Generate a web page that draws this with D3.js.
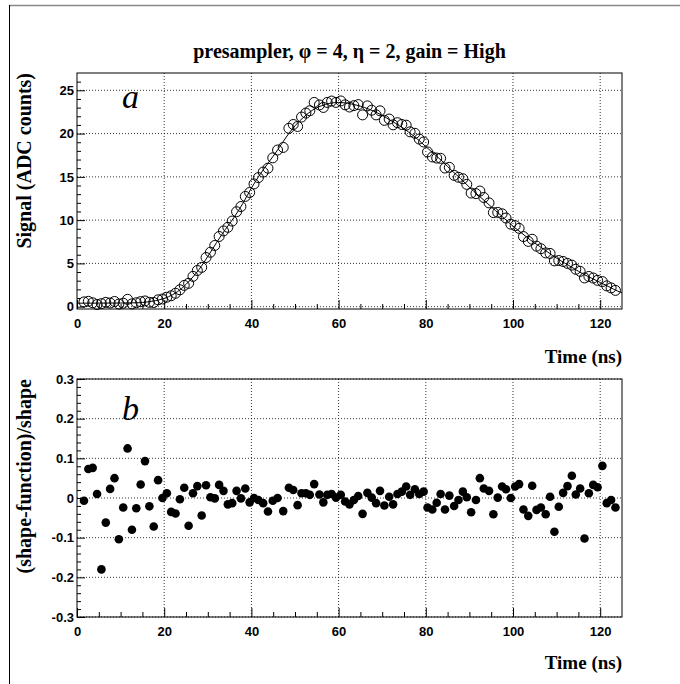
<!DOCTYPE html>
<html>
<head>
<meta charset="utf-8">
<script src="https://cdn.jsdelivr.net/npm/d3@7"></script>
<style>
  body { margin: 0; background: #fff; }
  svg { display: block; font-family: "Liberation Serif", "Times New Roman", serif; }
  .tick text { font-weight: bold; font-size: 13px; }
</style>
</head>
<body>
<script>
// sample times (ns)
var times = [1.6,2.6,3.6,4.6,5.6,6.6,7.6,8.6,9.6,10.6,11.6,12.6,13.6,14.6,15.6,16.6,17.6,18.6,
  19.6,20.6,21.6,22.6,23.6,24.6,25.6,26.6,27.6,28.6,29.6,30.6,31.6,32.6,33.6,34.6,35.6,36.6,37.6,38.6,39.6,40.6,41.6,42.7,43.8,44.9,46.0,
  47.3,48.6,49.6,50.6,51.5,52.5,53.4,54.4,55.6,56.5,57.4,58.4,59.4,60.5,61.5,62.5,63.5,64.5,65.5,66.6,
  67.6,68.6,69.5,70.5,71.6,72.5,73.5,74.5,75.5,76.4,77.5,78.5,79.5,80.4,81.5,82.5,83.4,84.4,85.4,86.5,
  87.5,88.5,89.4,90.4,91.5,92.4,93.3,94.5,95.5,96.5,97.5,98.4,99.5,100.5,101.4,102.4,103.5,104.4,105.4,106.4,
  107.5,108.5,109.5,110.5,111.5,112.5,113.5,114.4,115.4,116.4,117.4,118.4,119.4,120.5,121.5,122.5,123.5];

// measured shape (ADC counts)
var signal = [0.55,0.62,0.45,0.25,0.35,0.50,0.42,0.60,0.30,0.40,0.85,0.32,0.45,0.58,0.66,0.50,0.48,0.79,
  0.89,1.09,1.26,1.55,1.95,2.46,2.70,3.50,4.18,4.54,5.68,6.29,7.07,8.11,8.75,9.17,9.89,10.97,11.57,12.74,13.19,14.18,14.91,15.55,16.0,17.2,18.1,
  18.4,20.61,21.05,20.82,21.91,22.37,22.64,23.6,23.31,23.02,23.6,23.76,23.6,23.77,23.32,23.07,23.23,23.35,22.16,23.2,
  22.7,22.16,22.63,21.53,21.68,21.01,21.26,21.05,20.97,20.2,20.03,19.37,19.03,17.88,17.3,17.17,17.14,16.02,16.1,15.17,
  14.95,14.78,14.13,13.13,13.06,13.36,12.62,11.99,10.87,10.89,10.73,10.24,9.53,9.36,9.05,8.1,7.54,7.79,6.99,6.7,
  6.21,6.15,5.29,5.33,5.22,5.0,4.8,4.32,4.08,3.32,3.49,3.31,3.04,2.9,2.4,2.17,1.88];

// (shape-function)/shape
var residual = [-0.007,0.073,0.076,0.01,-0.18,-0.062,0.023,0.05,-0.104,-0.024,0.125,-0.08,-0.026,0.034,0.093,-0.021,-0.072,0.045,
  0.0,0.012,-0.035,-0.039,-0.003,0.026,-0.07,0.012,0.03,-0.044,0.032,0.002,-0.001,0.033,0.018,-0.016,-0.013,0.018,-0.001,0.024,-0.011,0.0,-0.005,-0.013,-0.034,-0.007,0.0,
  -0.033,0.026,0.02,-0.018,0.012,0.012,0.008,0.035,0.009,-0.011,0.008,0.01,0.001,0.008,-0.009,-0.016,-0.005,0.005,-0.04,0.013,
  0.001,-0.013,0.018,-0.019,0.003,-0.016,0.01,0.016,0.029,0.008,0.022,0.01,0.016,-0.024,-0.029,-0.012,0.01,-0.029,0.006,-0.02,
  -0.005,0.016,0.002,-0.036,-0.005,0.05,0.024,0.018,-0.041,0.001,0.029,0.022,0,0.029,0.035,-0.029,-0.045,0.031,-0.03,-0.024,
  -0.041,0.003,-0.085,-0.022,0.013,0.03,0.056,0.009,0.024,-0.102,0.012,0.033,0.027,0.081,-0.013,-0.005,-0.024];

// fitted function
var fitTimes = [0,10,14,16,18,20,22,24,26,28,30,32,34,36,38,40,42,44,46,48,50,52,54,56,58,60,62,64,66,68,70,
  72,74,76,78,80,82,84,86,88,90,92,94,96,98,100,102,104,106,108,110,112,114,116,118,120,122,124,125];
var fitValues = [0.40,0.42,0.45,0.54,0.70,0.95,1.4,2.1,3.1,4.3,5.8,7.4,8.9,10.3,11.9,13.7,15.3,16.7,18.1,19.6,20.9,21.9,22.7,23.2,23.5,23.6,23.5,23.3,23.0,22.6,22.1,
  21.5,20.9,20.2,19.4,18.5,17.6,16.7,15.7,14.8,13.8,12.9,12.0,11.1,10.2,9.3,8.5,7.7,7.0,6.3,5.6,5.0,4.4,3.8,3.3,2.8,2.3,1.8,1.6];

var xMajor = [0,20,40,60,80,100,120];
var xMinor = [5,10,15,25,30,35,45,50,55,65,70,75,85,90,95,105,110,115];
var topMajor = [0,5,10,15,20,25];
var botMajor = [-0.3,-0.2,-0.1,0,0.1,0.2,0.3];

var titleText = "presampler, \u03c6 = 4, \u03b7 = 2, gain = High";

(function(){
  var width = 680, height = 684;
  var left = 77, right = 622;

  var svg = d3.select("body").append("svg")
      .attr("width", width)
      .attr("height", height);

  // canvas border
  svg.append("line").attr("x1", 9).attr("x2", 680).attr("y1", 5.5).attr("y2", 5.5)
      .attr("stroke", "#888").attr("stroke-width", 1.5);
  svg.append("line").attr("x1", 9.5).attr("x2", 9.5).attr("y1", 5).attr("y2", 684)
      .attr("stroke", "#000");

  svg.append("text")
      .attr("x", (left + right) / 2).attr("y", 58)
      .attr("text-anchor", "middle")
      .attr("font-weight", "bold").attr("font-size", 20)
      .text(titleText);

  var x = d3.scaleLinear().domain([0, 125]).range([left, right]);

  function panel(top, bottom, yScale, yMajor, yMinor, fmt, yTitle, tag, tagY, xTitleY){
    var g = svg.append("g");

    // grid
    g.selectAll(".gx").data(xMajor.filter(function(v){ return v > 0; })).enter().append("line")
        .attr("x1", function(d){ return x(d); }).attr("x2", function(d){ return x(d); })
        .attr("y1", top).attr("y2", bottom)
        .attr("stroke", "#000").attr("stroke-width", 0.8).attr("stroke-dasharray", "1,2");
    g.selectAll(".gy").data(yMajor).enter().append("line")
        .attr("x1", left).attr("x2", right)
        .attr("y1", function(d){ return yScale(d); }).attr("y2", function(d){ return yScale(d); })
        .attr("stroke", "#000").attr("stroke-width", 0.8).attr("stroke-dasharray", "1,2");

    // x axis
    g.append("g").attr("transform", "translate(0," + bottom + ")")
        .call(d3.axisBottom(x).tickValues(xMinor).tickSize(-5).tickFormat(""))
        .call(function(a){ a.select(".domain").remove(); });
    g.append("g").attr("transform", "translate(0," + bottom + ")")
        .call(d3.axisBottom(x).tickValues(xMajor).tickSize(-9).tickPadding(10).tickFormat(d3.format("d")))
        .call(function(a){ a.select(".domain").remove(); a.selectAll("text").attr("fill", "#000"); });

    // y axis
    g.append("g").attr("transform", "translate(" + left + ",0)")
        .call(d3.axisLeft(yScale).tickValues(yMinor).tickSize(-4).tickFormat(""))
        .call(function(a){ a.select(".domain").remove(); });
    g.append("g").attr("transform", "translate(" + left + ",0)")
        .call(d3.axisLeft(yScale).tickValues(yMajor).tickSize(-8).tickPadding(3).tickFormat(fmt))
        .call(function(a){ a.select(".domain").remove(); a.selectAll("text").attr("fill", "#000"); });

    g.append("rect")
        .attr("x", left).attr("y", top).attr("width", right - left).attr("height", bottom - top)
        .attr("fill", "none").attr("stroke", "#000");

    g.append("text")
        .attr("transform", "translate(31," + top + ") rotate(-90)")
        .attr("text-anchor", "end")
        .attr("font-weight", "bold").attr("font-size", 20)
        .text(yTitle);

    g.append("text")
        .attr("x", right).attr("y", xTitleY)
        .attr("text-anchor", "end")
        .attr("font-weight", "bold").attr("font-size", 19)
        .text("Time (ns)");

    g.append("text")
        .attr("x", 122).attr("y", tagY)
        .attr("font-style", "italic").attr("font-size", 34)
        .text(tag);
    return g;
  }

  // top panel: signal shape with fitted function
  var yTop = d3.scaleLinear().domain([-0.27, 27]).range([309, 73]);
  var topMinor = d3.range(0, 27).filter(function(v){ return v % 5 !== 0; });
  var gTop = panel(73, 309, yTop, topMajor, topMinor, d3.format("d"), "Signal (ADC counts)", "a", 108, 363);

  var fitLine = d3.line()
      .x(function(d, i){ return x(fitTimes[i]); })
      .y(function(d){ return yTop(d); })
      .curve(d3.curveMonotoneX);
  gTop.append("path")
      .attr("d", fitLine(fitValues))
      .attr("fill", "none").attr("stroke", "#000").attr("stroke-width", 1);

  gTop.selectAll(".pt").data(signal).enter().append("circle")
      .attr("cx", function(d, i){ return x(times[i]); })
      .attr("cy", function(d){ return yTop(d); })
      .attr("r", 5)
      .attr("fill", "none").attr("stroke", "#000").attr("stroke-width", 1);

  // bottom panel: relative residuals
  var yBot = d3.scaleLinear().domain([-0.3, 0.3]).range([617, 379]);
  var botMinor = d3.range(-15, 16).filter(function(v){ return v % 5 !== 0; }).map(function(v){ return v * 0.02; });
  var gBot = panel(379, 617, yBot, botMajor, botMinor,
      function(d){ return d === 0 ? "0" : d3.format(".1f")(d).replace("\u2212", "-"); },
      "(shape-function)/shape", "b", 420, 669);

  gBot.selectAll(".rs").data(residual).enter().append("circle")
      .attr("cx", function(d, i){ return x(times[i]); })
      .attr("cy", function(d){ return yBot(d); })
      .attr("r", 4.3)
      .attr("fill", "#000");
})();
</script>
</body>
</html>
